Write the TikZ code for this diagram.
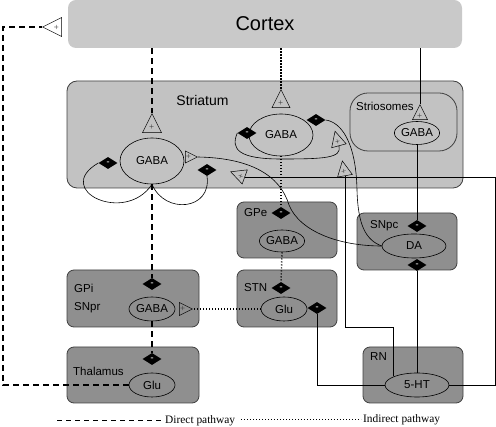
\documentclass[tikz,border=0pt]{standalone}
\usepackage{fontspec}
\setmainfont{Liberation Serif}
\setsansfont{Liberation Sans}
\usepackage{tikz}
\usetikzlibrary{shapes.geometric}
\definecolor{cortexgray}{gray}{0.79}
\definecolor{striatgray}{gray}{0.76}
\definecolor{nucgray}{gray}{0.56}
\definecolor{edgegray}{gray}{0.25}

\begin{document}
\begin{tikzpicture}[x=1pt,y=1pt,font=\sffamily\fontsize{11.5}{13}\selectfont,region/.style={rectangle,rounded corners=7pt,draw=edgegray,line width=0.8pt,fill=nucgray,inner sep=0pt},cell/.style={ellipse,draw,line width=0.6pt,inner sep=0pt},inh/.style={diamond,fill=black,text=white,inner sep=0pt,minimum width=19pt,minimum height=12pt,font=\fontsize{9}{9}\selectfont\bfseries},exc/.style={isosceles triangle,isosceles triangle stretches,draw,line width=0.5pt,inner sep=0pt,minimum width=#1,minimum height=#1,text=black!80,font=\fontsize{9}{9}\selectfont},exc/.default=18pt,lbl/.style={inner sep=0pt},direct/.style={line width=1.2pt,dash pattern=on 6pt off 4pt},indirect/.style={line width=1.4pt,dash pattern=on 1.2pt off 1.8pt},link/.style={line width=0.6pt}]
	\useasboundingbox (0,0) rectangle (496,-427);
	\node[region,draw=none,fill=cortexgray,rounded corners=8pt,minimum width=394pt,minimum height=48pt,font=\sffamily\fontsize{20}{24}\selectfont] (cortex) at (265,-24) {Cortex};
	\node[region,fill=striatgray,rounded corners=10pt,minimum width=396pt,minimum height=107pt] (striatum) at (265,-134.5) {};
	\node[region,fill=striatgray,rounded corners=18pt,minimum width=107pt,minimum height=58pt] (striosomes) at (403.5,-122) {};
	\node[region,minimum width=132pt,minimum height=57pt] (gpi) at (133,-298.5) {};
	\node[region,minimum width=132pt,minimum height=56pt] (thal) at (133,-375) {};
	\node[region,minimum width=100pt,minimum height=56pt] (gpe) at (287,-230) {};
	\node[region,minimum width=100pt,minimum height=57pt] (stn) at (287,-298.5) {};
	\node[region,minimum width=100pt,minimum height=57pt] (snpc) at (407,-241.5) {};
	\node[region,minimum width=100pt,minimum height=56pt] (rn) at (413,-375) {};
	\node[lbl,font=\sffamily\fontsize{14}{16}\selectfont] (striatumlbl) at (202.5,-101) {Striatum};
	\node[lbl,anchor=west] (striolbl) at (356,-106) {Striosomes};
	\node[lbl,anchor=west] (gpilbl) at (74,-288) {GPi};
	\node[lbl,anchor=west] (snprlbl) at (74,-308) {SNpr};
	\node[lbl,anchor=west] (thallbl) at (73,-371) {Thalamus};
	\node[lbl,anchor=west] (gpelbl) at (244,-213) {GPe};
	\node[lbl,anchor=west] (stnlbl) at (244,-288) {STN};
	\node[lbl,anchor=west] (snpclbl) at (370,-226) {SNpc};
	\node[lbl,anchor=west] (rnlbl) at (370,-357) {RN};
	\node[cell,minimum width=64pt,minimum height=46pt] (gabaL) at (152,-161) {GABA};
	\node[cell,minimum width=64pt,minimum height=42pt] (gabaM) at (281,-135) {GABA};
	\node[cell,minimum width=44pt,minimum height=23pt] (gabaS) at (417,-133) {GABA};
	\node[cell,minimum width=45pt,minimum height=22pt] (gabaGPe) at (282,-241) {GABA};
	\node[cell,minimum width=46pt,minimum height=24pt] (gluSTN) at (284,-309) {Glu};
	\node[cell,minimum width=46pt,minimum height=24pt] (gabaGPi) at (152,-309) {GABA};
	\node[cell,minimum width=46pt,minimum height=24pt] (gluTh) at (152,-385) {Glu};
	\node[cell,minimum width=64pt,minimum height=24pt] (da) at (414,-246) {DA};
	\node[cell,minimum width=64pt,minimum height=24pt] (ht) at (417,-385) {5-HT};
	\node[inh] (dL1) at (108,-163) {-};
	\node[inh] (dL2) at (207,-170) {-};
	\node[inh] (dM1) at (247,-133) {-};
	\node[inh] (dM2) at (316,-120) {-};
	\node[inh] (dGPe) at (281,-213) {-};
	\node[inh] (dSTN1) at (281,-288) {-};
	\node[inh] (dSTN2) at (317,-308) {-};
	\node[inh] (dSN1) at (417,-226) {-};
	\node[inh] (dSN2) at (417,-265) {-};
	\node[inh] (dGPi) at (152,-284) {-};
	\node[inh] (dTh) at (152,-359) {-};
	\node[exc=19pt,anchor=apex,rotate=90] (tL) at (152,-113) {+};
	\node[exc=18pt,anchor=apex,rotate=90] (tM) at (281,-89) {+};
	\node[exc=15pt,anchor=apex,rotate=90] (tS) at (420,-104) {+};
	\node[exc=19pt,anchor=apex,rotate=180] (tCx) at (42,-27) {+};
	\node[exc=13pt,anchor=apex] (tGPi) at (193,-309) {+};
	\node[exc=12pt,anchor=apex] (tL2) at (198,-157) {+};
	\node[exc=15pt,anchor=lower side,rotate=160] (tL3) at (245,-177) {+};
	\node[exc=15pt,anchor=lower side,rotate=105] (tM2) at (339,-146) {+};
	\node[exc=15pt,anchor=lower side,rotate=100] (tM3) at (345,-176) {+};
	\coordinate (cxturn) at (3,-27);
	\coordinate (htturn) at (495,-177);
	\coordinate (stturn) at (345,-327);
	\draw[direct] (cortex.south -| tL.apex) -- (tL.apex);
	\draw[direct] (gabaL.south) -- (dGPi.north);
	\draw[direct] (gabaGPi.south) -- (dTh.north);
	\draw[direct] (gluTh.west) -| (cxturn) -- (tCx.apex);
	\draw[indirect] (cortex.south -| tM.apex) -- (tM.apex);
	\draw[indirect] (gabaM.south) -- (dGPe.north);
	\draw[indirect] (gabaGPe.south) -- (dSTN1.north);
	\draw[indirect] (gluSTN.west) -- (tGPi.apex);
	\draw[link] (cortex.south -| tS.apex) -- (tS.apex);
	\draw[link] (gabaS.south) -- (dSN1.north);
	\draw[link] (ht.north) -- (dSN2.south);
	\draw[link] (dSTN2.south) |- (ht.west);
	\draw[link] (ht.east) -| (htturn) -- (tL3.lower side);
	\draw[link] (ht.160) |- (stturn) -- (tM3.lower side);
	\draw[link] (gabaL.south) .. controls (125,-225) and (52,-190) .. (dL1.west);
	\draw[link] (gabaL.south) .. controls (165,-215) and (212,-210) .. (dL2.south);
	\draw[link] (dM1.west) .. controls (230,-150) and (240,-159) .. (281,-159) .. controls (325,-159) and (342,-158) .. (tM2.lower side);
	\draw[link] (dM2.east) .. controls (340,-122) and (356,-140) .. (357,-190) .. controls (358,-226) and (366,-240) .. (da.west);
	\draw[link] (tL2.apex) .. controls (250,-158) and (280,-175) .. (289,-205) .. controls (300,-232) and (340,-246) .. (da.west);
	\node[lbl,anchor=west,font=\rmfamily\fontsize{11.4}{13}\selectfont] (lgD) at (165,-421) {Direct pathway};
	\node[lbl,anchor=west,font=\rmfamily\fontsize{11.4}{13}\selectfont] (lgI) at (363,-420) {Indirect pathway};
	\coordinate (lgDs) at (57,-421);
	\coordinate (lgIs) at (241,-420);
	\draw[direct,line width=1pt,dash pattern=on 5pt off 4pt] (lgDs) -- ([xshift=-4pt]lgD.west);
	\draw[indirect,line width=1pt] (lgIs) -- ([xshift=-2pt]lgI.west);
\end{tikzpicture}
\end{document}
